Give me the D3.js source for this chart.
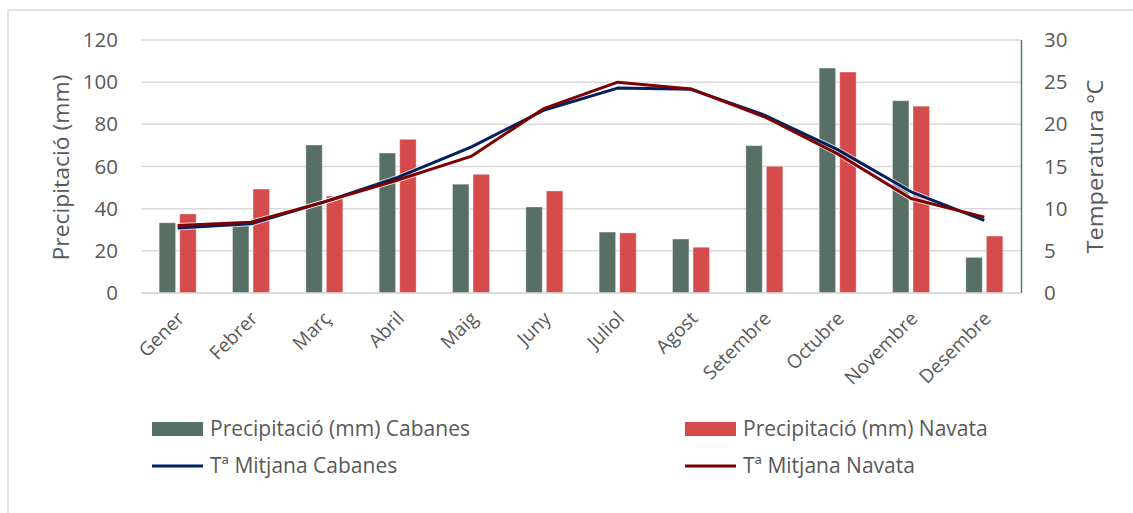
<!doctype html>
<html>
<head>
<meta charset="utf-8">
<title>Precipitació i temperatura</title>
<script src="https://cdn.jsdelivr.net/npm/d3@7"></script>
<style>
  body { margin: 0; background: #fff; }
  text { font-family: "Open Sans", sans-serif; fill: #595959; }
</style>
</head>
<body>
<script>
// months
const months = ["Gener","Febrer","Març","Abril","Maig","Juny","Juliol","Agost","Setembre","Octubre","Novembre","Desembre"];
// precipitation (mm)
const precipCabanes = [33.3, 32, 70.2, 66.4, 51.6, 40.8, 28.9, 25.6, 69.9, 106.7, 91.2, 16.9];
const precipNavata  = [37.5, 49.3, 46, 72.9, 56.3, 48.4, 28.5, 21.7, 60.1, 104.8, 88.6, 27];
// mean temperature (ºC)
const tempCabanes = [7.7, 8.2, 10.8, 13.7, 17.3, 21.7, 24.3, 24.15, 21.1, 17.0, 12.0, 8.6];
const tempNavata  = [8.0, 8.4, 10.8, 13.4, 16.2, 21.9, 25.0, 24.2, 20.9, 16.5, 11.2, 9.0];
const leftTicks = [0, 20, 40, 60, 80, 100, 120];
const rightTicks = [0, 5, 10, 15, 20, 25, 30];

const w = 1133, h = 513;
const svg = d3.select("body").append("svg").attr("width", w).attr("height", h);

// outer chart border (only left + top visible in the crop)
svg.append("rect").attr("x", 8).attr("y", 10).attr("width", 1200).attr("height", 600)
  .attr("fill", "none").attr("stroke", "#d9d9d9").attr("stroke-width", 1.5);

const pLeft = 141, pRight = 1021, pTop = 40, pBottom = 293;

const x = d3.scaleBand().domain(months).range([pLeft, pRight]);
const xs = d3.scaleBand().domain(["Cabanes", "Navata"])
  .range([-18.5, 18.5]).paddingInner(0.2);
const yP = d3.scaleLinear().domain([0, 120]).range([pBottom, pTop]);
const yT = d3.scaleLinear().domain([0, 30]).range([pBottom, pTop]);

// gridlines
svg.append("g").selectAll("line").data(leftTicks).join("line")
  .attr("x1", pLeft).attr("x2", pRight)
  .attr("y1", d => yP(d)).attr("y2", d => yP(d))
  .attr("stroke", "#d9d9d9").attr("stroke-width", 1.5);

// bars
const barData = [];
months.forEach((m, i) => {
  barData.push({ m, s: "Cabanes", v: precipCabanes[i] });
  barData.push({ m, s: "Navata", v: precipNavata[i] });
});
const barColor = { Cabanes: "#586f66", Navata: "#d54b4b" };
svg.append("g").selectAll("rect").data(barData).join("rect")
  .attr("x", d => x(d.m) + x.bandwidth() / 2 + xs(d.s))
  .attr("width", xs.bandwidth())
  .attr("y", d => yP(d.v))
  .attr("height", d => yP(0) - yP(d.v))
  .attr("fill", d => barColor[d.s])
  .attr("stroke", "#fff").attr("stroke-opacity", 0.35).attr("stroke-width", 1);

// temperature lines
const line = d3.line().x((d, i) => x(months[i]) + x.bandwidth() / 2).y(d => yT(d));
[[tempCabanes, "#002060"], [tempNavata, "#7f0000"]].forEach(([vals, col]) => {
  svg.append("path").datum(vals).attr("d", line)
    .attr("fill", "none").attr("stroke", "#fff").attr("stroke-opacity", 0.7)
    .attr("stroke-width", 5).attr("stroke-linejoin", "round");
});
[[tempCabanes, "#002060"], [tempNavata, "#7f0000"]].forEach(([vals, col]) => {
  svg.append("path").datum(vals).attr("d", line)
    .attr("fill", "none").attr("stroke", col)
    .attr("stroke-width", 3).attr("stroke-linejoin", "round");
});

// right axis line
svg.append("line").attr("x1", pRight + 0.5).attr("x2", pRight + 0.5)
  .attr("y1", pTop).attr("y2", pBottom)
  .attr("stroke", "#4e7d68").attr("stroke-width", 1.5);

// left axis
const yAxisL = svg.append("g").attr("transform", `translate(${pLeft - 23},0)`)
  .call(d3.axisLeft(yP).tickValues(leftTicks).tickSize(0).tickPadding(0));
yAxisL.select(".domain").remove();
yAxisL.selectAll("text").style("font-size", "20.5px").attr("fill", "#595959")
  .style("font-family", "'Open Sans', sans-serif");

// right axis
const yAxisR = svg.append("g").attr("transform", `translate(${pRight + 23},0)`)
  .call(d3.axisRight(yT).tickValues(rightTicks).tickSize(0).tickPadding(0));
yAxisR.select(".domain").remove();
yAxisR.selectAll("text").style("font-size", "20.5px").attr("fill", "#595959")
  .style("font-family", "'Open Sans', sans-serif");

// x axis line
svg.append("line").attr("x1", pLeft).attr("x2", pRight)
  .attr("y1", pBottom).attr("y2", pBottom)
  .attr("stroke", "#d9d9d9").attr("stroke-width", 1.5);

// month labels
svg.append("g").selectAll("text").data(months).join("text")
  .attr("transform", d => `translate(${x(d) + x.bandwidth() / 2 + 3},${pBottom + 22}) rotate(-45)`)
  .attr("text-anchor", "end").attr("dy", "0.35em")
  .style("font-size", "19px")
  .text(d => d);

// axis titles
svg.append("text").attr("transform", `translate(69,167.5) rotate(-90)`)
  .attr("text-anchor", "middle").style("font-size", "22px")
  .attr("textLength", 186).attr("lengthAdjust", "spacingAndGlyphs")
  .text("Precipitació (mm)");
svg.append("text").attr("transform", `translate(1103,166.5) rotate(-90)`)
  .attr("text-anchor", "middle").style("font-size", "22px")
  .attr("textLength", 174).attr("lengthAdjust", "spacingAndGlyphs")
  .text("Temperatura ºC");

// legend
const legend = [
  { label: "Precipitació (mm) Cabanes", type: "bar", col: "#586f66", x: 152, y: 429 },
  { label: "Precipitació (mm) Navata", type: "bar", col: "#d54b4b", x: 685, y: 429 },
  { label: "Tª Mitjana Cabanes", type: "line", col: "#002060", x: 152, y: 466 },
  { label: "Tª Mitjana Navata", type: "line", col: "#7f0000", x: 685, y: 466 }
];
const lg = svg.append("g").selectAll("g").data(legend).join("g")
  .attr("transform", d => `translate(${d.x},${d.y})`);
lg.filter(d => d.type === "bar").append("rect")
  .attr("x", 0).attr("y", -7).attr("width", 51).attr("height", 14).attr("fill", d => d.col);
lg.filter(d => d.type === "line").append("line")
  .attr("x1", 0).attr("x2", 51).attr("y1", 0).attr("y2", 0)
  .attr("stroke", d => d.col).attr("stroke-width", 3);
lg.append("text").attr("x", 58).attr("dy", "0.35em").style("font-size", "21px").text(d => d.label);
</script>
</body>
</html>
